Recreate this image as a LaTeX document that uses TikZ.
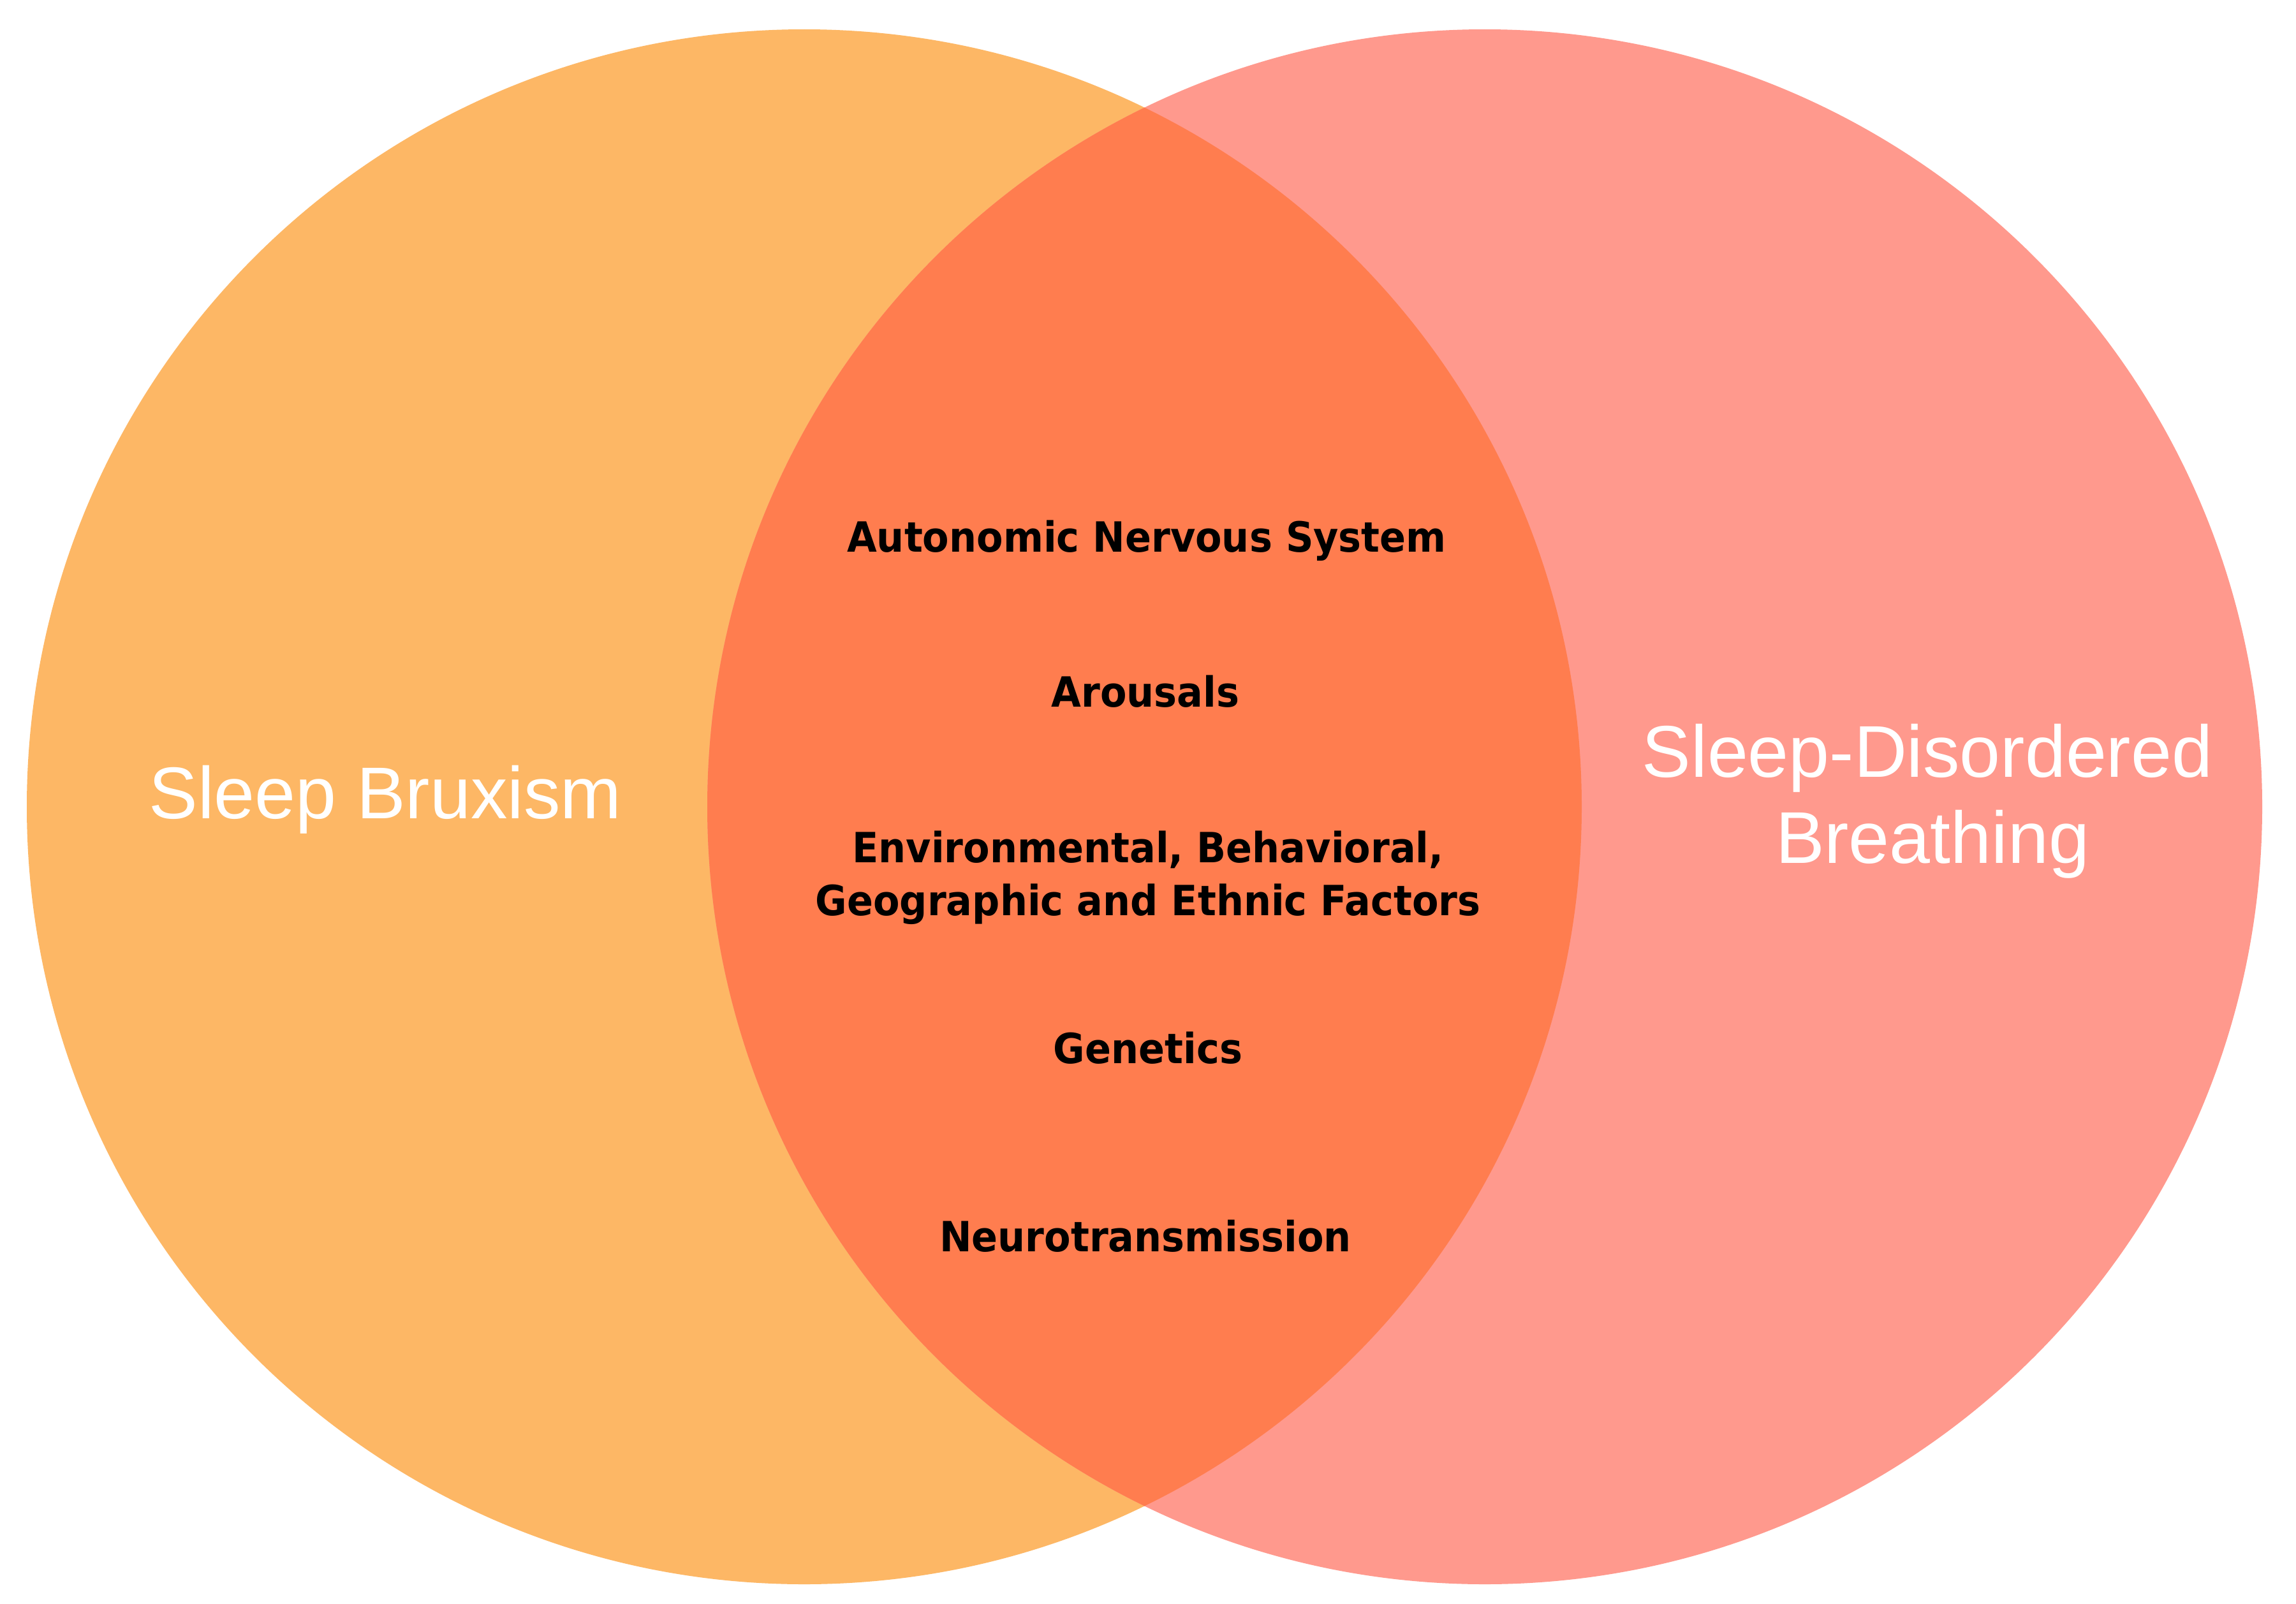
\documentclass[tikz,border=0pt]{standalone}
\usepackage{fontspec}
\setmainfont{Liberation Sans}
\newfontfamily\factorfont{DejaVu Sans}[BoldFont={DejaVu Sans Bold}]
\definecolor{bruxcol}{HTML}{FDB765}
\definecolor{sdbcol}{HTML}{FF998D}
\definecolor{overlapcol}{HTML}{FF7D4F}
\begin{document}
\begin{tikzpicture}[
  factor/.style={anchor=base, text=black, inner sep=0pt, align=center,
    yscale=1.08, transform shape,
    font=\factorfont\bfseries\fontsize{17.2}{21.8}\selectfont},
  biglabel/.style={anchor=base, text=white, inner sep=0pt, align=center,
    font=\fontsize{32.7}{38.4}\selectfont}
]
\useasboundingbox (0,0) rectangle (36,-25.14);
\fill[white] (0,0) rectangle (36,-25.14);
\coordinate (cl) at (12.61,-12.65);
\coordinate (cr) at (23.28,-12.65);
\fill[bruxcol] (cl) circle (12.19);
\fill[sdbcol] (cr) circle (12.19);
\begin{scope}
  \clip (cl) circle (12.19);
  \fill[overlapcol] (cr) circle (12.19);
\end{scope}
\node[biglabel] (sb) at (6.04,-12.83) {Sleep Bruxism};
\node[biglabel] (sdb1) at (30.22,-12.18) {Sleep-Disordered};
\node[biglabel] (sdb2) at (30.30,-13.53) {Breathing};
\node[factor] (ans) at (17.98,-8.65) {Autonomic Nervous System};
\node[factor] (aro) at (17.96,-11.08) {Arousals};
\node[factor] (env1) at (18.00,-13.52) {Environmental, Behavioral,};
\node[factor] (env2) at (18.00,-14.35) {Geographic and Ethnic Factors};
\node[factor] (gen) at (18.00,-16.67) {Genetics};
\node[factor] (neu) at (17.96,-19.62) {Neurotransmission};
\end{tikzpicture}
\end{document}
